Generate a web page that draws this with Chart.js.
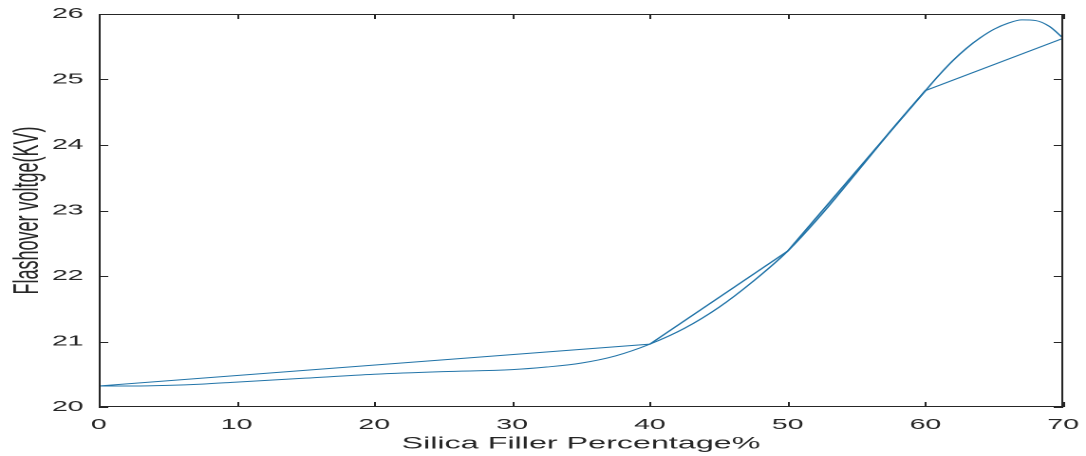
<!DOCTYPE html>
<html>
<head>
<meta charset="utf-8">
<script src="https://cdn.jsdelivr.net/npm/chart.js@4"></script>
<style>
  html, body { margin: 0; padding: 0; background: #fff; overflow: hidden; }
  #chart-flashover { display: block; transform: scaleX(1.8986); transform-origin: 0 0; }
</style>
</head>
<body>
<canvas id="chart-flashover" width="572" height="456"></canvas>
<script>
// measured points (straight segments)
const fillerPct = [0, 40, 50, 60, 70];
const flashoverKV = [20.32, 20.96, 22.38, 24.83, 25.63];

// fitted curve
const fitPct = [0, 2.5, 5, 7.5, 10, 15, 20, 25, 30, 32.5, 35, 37.5, 40, 42.5, 45, 47.5, 50, 52.5, 55, 57.5, 60, 61, 62, 63, 64, 65, 66, 67, 68, 69, 70];
const fitKV = [20.32, 20.32, 20.33, 20.35, 20.38, 20.44, 20.50, 20.54, 20.57, 20.61, 20.67, 20.78, 20.96, 21.20, 21.52, 21.92, 22.38, 22.95, 23.58, 24.22, 24.83, 25.07, 25.29, 25.48, 25.64, 25.77, 25.86, 25.91, 25.90, 25.81, 25.63];

const xTicks = [0, 10, 20, 30, 40, 50, 60, 70];
const yTicks = [20, 21, 22, 23, 24, 25, 26];

const lineColor = '#2274a8';
const axisColor = '#262626';

// MATLAB style box with inward ticks on all sides
const boxTicks = {
    id: 'boxTicks',
    afterDraw(chart) {
        const { ctx, chartArea: a, scales } = chart;
        ctx.save();
        ctx.strokeStyle = axisColor;
        ctx.lineWidth = 1;
        ctx.strokeRect(a.left + 0.5, a.top + 0.5, a.right - a.left - 1, a.bottom - a.top - 1);
        ctx.beginPath();
        xTicks.forEach(v => {
            const px = Math.round(scales.x.getPixelForValue(v)) + 0.5;
            ctx.moveTo(px, a.bottom); ctx.lineTo(px, a.bottom - 5);
            ctx.moveTo(px, a.top); ctx.lineTo(px, a.top + 5);
        });
        yTicks.forEach(v => {
            const py = Math.round(scales.y.getPixelForValue(v)) + 0.5;
            ctx.moveTo(a.left, py); ctx.lineTo(a.left + 5, py);
            ctx.moveTo(a.right, py); ctx.lineTo(a.right - 5, py);
        });
        ctx.stroke();
        ctx.restore();
    }
};

const data = {
    datasets: [{
        data: fillerPct.map((x, i) => ({ x: x, y: flashoverKV[i] })),
        borderColor: lineColor,
        borderWidth: 1,
        pointRadius: 0,
        tension: 0
    }, {
        data: fitPct.map((x, i) => ({ x: x, y: fitKV[i] })),
        borderColor: lineColor,
        borderWidth: 1,
        pointRadius: 0,
        cubicInterpolationMode: 'monotone'
    }]
};

const config = {
    type: 'line',
    data: data,
    options: {
        responsive: false,
        animation: false,
        devicePixelRatio: 2,
        layout: { padding: { top: 14, right: 12, left: 0, bottom: 0 } },
        plugins: {
            legend: { display: false },
            tooltip: { enabled: false }
        },
        scales: {
            x: {
                type: 'linear',
                min: 0,
                max: 70,
                afterBuildTicks: s => { s.ticks = xTicks.map(v => ({ value: v })); },
                afterFit: s => { s.height = 49; },
                grid: { display: false },
                border: { display: false },
                ticks: { color: axisColor, font: { family: 'Liberation Sans', size: 15 }, padding: 1, maxRotation: 0 },
                title: { display: true, text: 'Silica Filler Percentage%', color: axisColor, font: { family: 'Liberation Sans', size: 17 }, padding: { top: 0, bottom: 2 } }
            },
            y: {
                min: 20,
                max: 26,
                afterBuildTicks: s => { s.ticks = yTicks.map(v => ({ value: v })); },
                afterFit: s => { s.width = 52; },
                grid: { display: false },
                border: { display: false },
                ticks: { color: axisColor, font: { family: 'Liberation Sans', size: 15 }, padding: 0 },
                title: { display: true, text: 'Flashover voltge(KV)', color: axisColor, font: { family: 'Liberation Sans', size: 18 }, padding: { top: 4, bottom: 0 } }
            }
        }
    },
    plugins: [boxTicks]
};

const myChart = new Chart(document.getElementById('chart-flashover'), config);
</script>
</body>
</html>
